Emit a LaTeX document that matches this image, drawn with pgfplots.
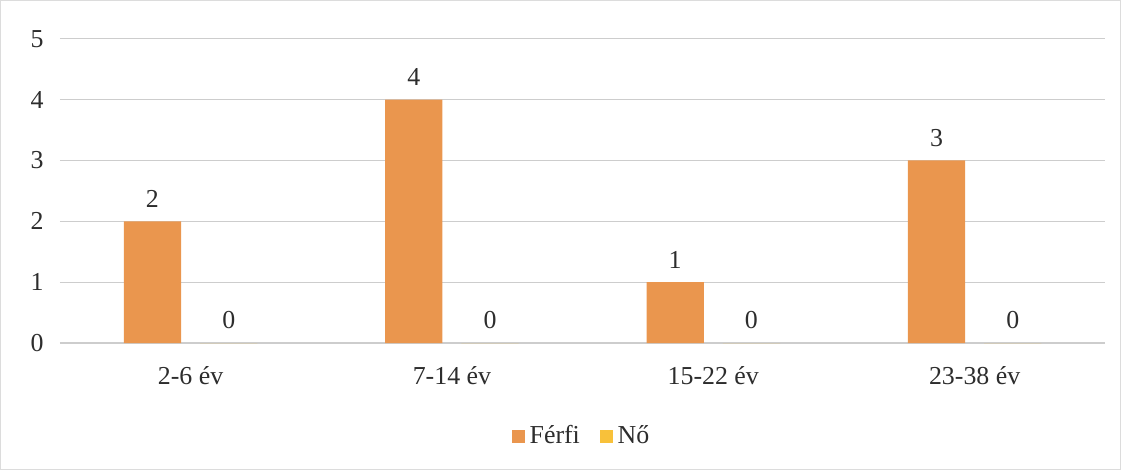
\documentclass[border=0pt]{standalone}
\usepackage{fontspec}
\setmainfont{Liberation Serif}
\usepackage{pgfplots}
\pgfplotsset{compat=1.18}

\definecolor{ferfi}{RGB}{234,150,78}
\definecolor{no}{RGB}{248,193,58}
\definecolor{gridc}{RGB}{205,205,205}
\definecolor{txt}{RGB}{45,45,45}

\begin{document}
\begin{tikzpicture}
\begin{axis}[
    scale only axis,
    width=416.4pt, height=121.2pt,
    ybar, bar width=0.219,
    xmin=-0.5, xmax=3.5,
    ymin=0, ymax=5,
    ytick={0,1,2,3,4,5},
    xtick=data,
    xticklabels={2-6 év, 7-14 év, 15-22 év, 23-38 év},
    axis line style={draw=none},
    major tick length=0pt,
    ymajorgrids, grid style={gridc, line width=0.5pt},
    tick label style={font=\fontsize{10.3}{12}\selectfont, text=txt},
    /pgf/number format/assume math mode=true,
    yticklabel style={xshift=-3pt},
    xticklabel style={yshift=-6pt},
    nodes near coords,
    every node near coord/.append style={font=\fontsize{10.3}{12}\selectfont, text=txt, yshift=2pt},
    legend style={at={(0.5005,-0.307)}, anchor=center, draw=none,
        legend columns=2, font=\fontsize{10.3}{12}\selectfont, text=txt,
        /tikz/every even column/.append style={column sep=6pt}},
    legend image code/.code={\fill[#1] (0pt,-2.5pt) rectangle (5pt,2.5pt);},
    clip=false,
]
\addplot[fill=ferfi, draw=none, bar shift=-0.146] coordinates {(0,2) (1,4) (2,1) (3,3)};
\addlegendentry{Férfi}
\addplot[fill=no, draw=none, bar shift=0.146] coordinates {(0,0) (1,0) (2,0) (3,0)};
\addlegendentry{Nő}
\draw[gridc!70, line width=0.5pt] (rel axis cs:-0.0567,-0.4158) rectangle (rel axis cs:1.0144,1.1254);
\end{axis}
\end{tikzpicture}
\end{document}
